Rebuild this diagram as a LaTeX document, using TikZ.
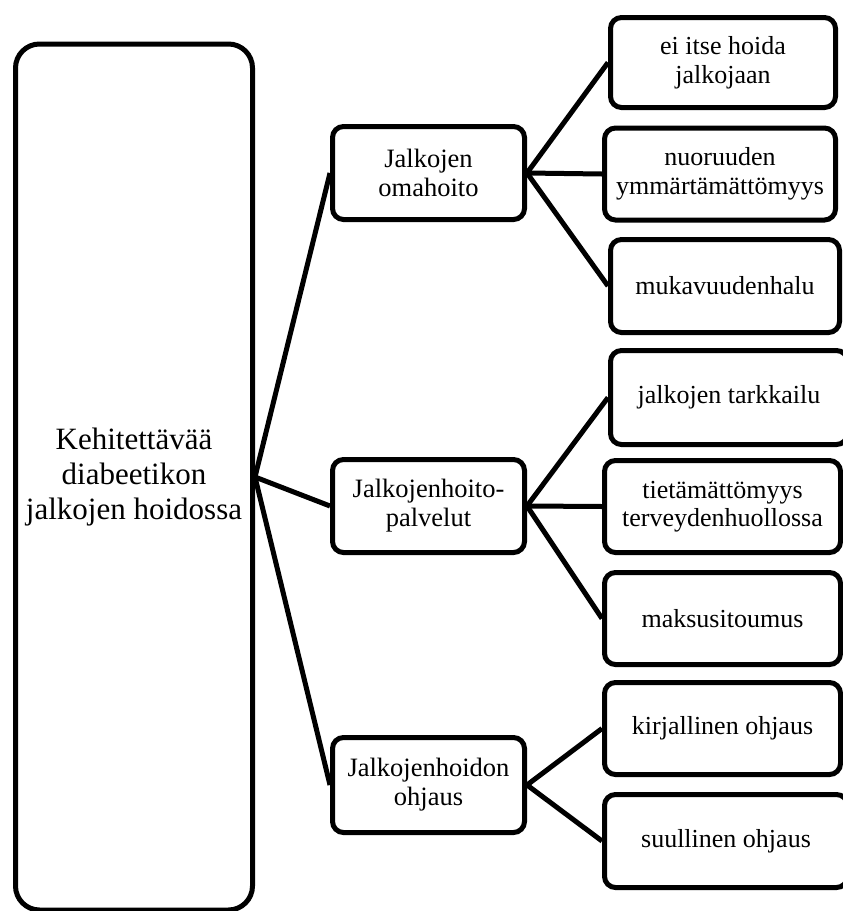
\documentclass[tikz,border=0pt]{standalone}
\usepackage{fontspec}
\setmainfont{Liberation Serif}
\begin{document}
\begin{tikzpicture}[x=1pt,y=-1pt,
           main_style/.style={rectangle,rounded corners=24pt,draw=black,line width=5pt,align=center,inner sep=0pt,font=\fontsize{31}{35}\selectfont},
           node_style/.style={rectangle,rounded corners=11pt,draw=black,line width=5pt,align=center,inner sep=0pt,font=\fontsize{26.5}{29}\selectfont},
           leaf_style/.style={node_style,font=\fontsize{26}{28.5}\selectfont},
           edge_style/.style={draw=black,line width=5pt}]
            \clip (0,0) rectangle (843,911);
            \node[main_style,minimum width=237pt,minimum height=866pt] (v0) at (134,477) {Kehitettävää\\diabeetikon\\jalkojen hoidossa};
            \node[node_style,minimum width=192pt,minimum height=93pt] (v1) at (428.5,173) {Jalkojen\\omahoito};
            \node[node_style,minimum width=192pt,minimum height=93pt] (v2) at (428.5,506) {Jalkojenhoito-\\palvelut};
            \node[node_style,minimum width=192pt,minimum height=95pt] (v3) at (428.5,785) {Jalkojenhoidon\\ohjaus};
            \node[leaf_style,minimum width=225pt,minimum height=90pt] (v4) at (723,62.5) {ei itse hoida\\jalkojaan};
            \node[leaf_style,minimum width=231pt,minimum height=92pt] (v5) at (720,174) {nuoruuden\\ymmärtämättömyys};
            \node[leaf_style,minimum width=229pt,minimum height=93pt] (v6) at (725,286) {mukavuudenhalu};
            \node[leaf_style,minimum width=237pt,minimum height=94pt] (v7) at (729,397.5) {jalkojen tarkkailu};
            \node[leaf_style,minimum width=236pt,minimum height=92pt] (v8) at (722.5,506.5) {tietämättömyys\\terveydenhuollossa};
            \node[leaf_style,minimum width=236pt,minimum height=92pt] (v9) at (722.5,618.5) {maksusitoumus};
            \node[leaf_style,minimum width=236pt,minimum height=92pt] (v10) at (722.5,728.5) {kirjallinen ohjaus};
            \node[leaf_style,minimum width=243pt,minimum height=93pt] (v11) at (726,841) {suullinen ohjaus};
            \draw[edge_style]  (v0.east) edge node{} (v1.west);
            \draw[edge_style]  (v0.east) edge node{} (v2.west);
            \draw[edge_style]  (v0.east) edge node{} (v3.west);
            \draw[edge_style]  (v1.east) edge node{} (v4.west);
            \draw[edge_style]  (v1.east) edge node{} (v5.west);
            \draw[edge_style]  (v1.east) edge node{} (v6.west);
            \draw[edge_style]  (v2.east) edge node{} (v7.west);
            \draw[edge_style]  (v2.east) edge node{} (v8.west);
            \draw[edge_style]  (v2.east) edge node{} (v9.west);
            \draw[edge_style]  (v3.east) edge node{} (v10.west);
            \draw[edge_style]  (v3.east) edge node{} (v11.west);
        \end{tikzpicture}
\end{document}
